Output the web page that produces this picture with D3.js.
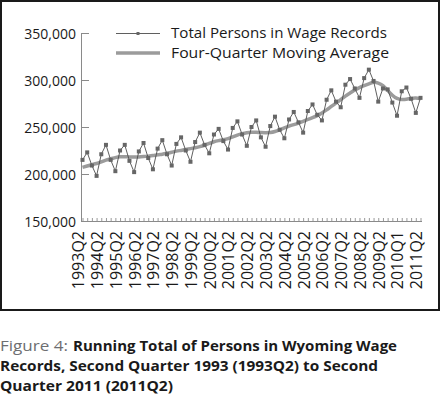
<!DOCTYPE html>
<html>
<head>
<meta charset="utf-8">
<script src="https://cdn.jsdelivr.net/npm/d3@7"></script>
<style>
  html, body { margin: 0; padding: 0; background: #fff; }
  svg { display: block; font-family: "Open Sans", "Noto Sans", sans-serif; }
</style>
</head>
<body>
<svg id="chart" width="441" height="396"></svg>
<script>
// --- DATA (thousands of persons) ---
const startYear = 1993;
const startQuarter = 2;
const totalPersons = [
  215, 223, 209, 198, 221, 231, 215, 203, 225, 231, 214, 202, 224, 233, 217, 205,
  227, 236, 221, 209, 232, 239, 225, 213, 234, 244, 231, 222, 242, 248, 235, 226,
  249, 256, 242, 230, 250, 257, 239, 229, 251, 261, 247, 238, 258, 266, 255, 244,
  267, 274, 263, 257, 279, 289, 277, 271, 295, 301, 291, 281, 302, 311, 299, 277,
  291, 290, 276, 262, 288, 292, 280, 265, 281
];
const movingAverage = [
  207, 208.5, 210, 211, 213, 215, 216, 217.5, 218.5, 218.5, 218, 218, 218, 218.5, 219, 219.5,
  220.5, 221, 222, 223, 224.5, 225, 226, 227, 228, 229, 230.5, 232.5, 234.5, 235.5, 236.5, 237.5,
  239.5, 241.5, 243, 244, 244.5, 244.5, 244, 244, 244, 245, 247, 249, 251, 252.5, 254, 256,
  258, 260, 262, 265, 268, 272, 275.5, 279, 283, 286, 289.5, 292, 294, 296, 298, 297,
  294.5, 289, 283.5, 280, 279, 279.5, 280.5, 281, 280
];
// labels printed under every fourth quarter (the source prints 2010Q1 there)
const tickLabels = [
  "1993Q2", "1994Q2", "1995Q2", "1996Q2", "1997Q2", "1998Q2", "1999Q2", "2000Q2", "2001Q2",
  "2002Q2", "2003Q2", "2004Q2", "2005Q2", "2006Q2", "2007Q2", "2008Q2", "2009Q2", "2010Q1", "2011Q2"
];
const yTicks = [150000, 200000, 250000, 300000, 350000];
const seriesNames = ["Total Persons in Wage Records", "Four-Quarter Moving Average"];

// quarter categories
const quarters = totalPersons.map((d, i) => {
  const q = startQuarter - 1 + i;
  return `${startYear + Math.floor(q / 4)}Q${(q % 4) + 1}`;
});

const svg = d3.select("#chart");

// frame around the chart
svg.append("rect")
  .attr("x", 1).attr("y", 1)
  .attr("width", 438).attr("height", 309)
  .attr("fill", "none").attr("stroke", "#1a1a1a").attr("stroke-width", 2);

const x = d3.scalePoint().domain(quarters).range([82.5, 420.5]);
const y = d3.scaleLinear().domain([150000, 350000]).range([221, 33]);

// y axis, ticks pointing inward
const yAxis = svg.append("g")
  .attr("transform", "translate(81,0)")
  .call(d3.axisLeft(y).tickValues(yTicks).tickSize(-8).tickSizeOuter(0).tickFormat(d3.format(",")));
yAxis.select(".domain").attr("stroke", "#8a8a8a");
yAxis.selectAll(".tick line").attr("stroke", "#8a8a8a");
yAxis.selectAll(".tick text")
  .attr("x", -5).attr("dy", "0.36em")
  .attr("fill", "#1a1a1a")
  .style("font-size", "14px").style("font-family", "'Open Sans', sans-serif");

// x axis with a small tick for every quarter
const xAxis = svg.append("g")
  .attr("transform", "translate(0,221)")
  .call(d3.axisBottom(x).tickSize(-3).tickSizeOuter(0).tickFormat(""));
xAxis.select(".domain").attr("stroke", "#8a8a8a").attr("d", "M81,0.5H422");
xAxis.selectAll(".tick line").attr("stroke", "#9a9a9a");

svg.append("g").selectAll("text")
  .data(tickLabels)
  .join("text")
  .attr("transform", (d, i) => `translate(${x(quarters[i * 4]) - 4},231) rotate(-90)`)
  .attr("text-anchor", "end")
  .attr("dy", "0.36em")
  .attr("fill", "#1a1a1a")
  .style("font-size", "16px")
  .text(d => d);

// moving average (thick grey)
const maLine = d3.line()
  .x((d, i) => x(quarters[i]))
  .y(d => y(d * 1000))
  .curve(d3.curveBasis);
svg.append("path")
  .datum(movingAverage)
  .attr("d", maLine)
  .attr("fill", "none")
  .attr("stroke", "#9b9b9b")
  .attr("stroke-width", 3.5);

// raw series with square markers
const rawLine = d3.line()
  .x((d, i) => x(quarters[i]))
  .y(d => y(d * 1000));
svg.append("path")
  .datum(totalPersons)
  .attr("d", rawLine)
  .attr("fill", "none")
  .attr("stroke", "#4d4d4d")
  .attr("stroke-width", 0.9);
svg.append("g").selectAll("rect")
  .data(totalPersons)
  .join("rect")
  .attr("x", (d, i) => x(quarters[i]) - 2)
  .attr("y", d => y(d * 1000) - 2)
  .attr("width", 4).attr("height", 4)
  .attr("fill", "#666");

// legend
const legend = svg.append("g");
legend.append("line")
  .attr("x1", 116).attr("x2", 160).attr("y1", 33.5).attr("y2", 33.5)
  .attr("stroke", "#4d4d4d").attr("stroke-width", 0.9);
legend.append("rect")
  .attr("x", 136.5).attr("y", 32).attr("width", 3).attr("height", 3).attr("fill", "#666");
legend.append("line")
  .attr("x1", 116).attr("x2", 160).attr("y1", 53).attr("y2", 53)
  .attr("stroke", "#9b9b9b").attr("stroke-width", 3.5);
legend.selectAll("text")
  .data(seriesNames)
  .join("text")
  .attr("x", 171)
  .attr("y", (d, i) => i === 0 ? 37.5 : 57.5)
  .attr("fill", "#1a1a1a")
  .attr("textLength", (d, i) => i === 0 ? 216 : 218)
  .attr("lengthAdjust", "spacingAndGlyphs")
  .style("font-size", "14.5px")
  .text(d => d);

// caption below the frame
const caption = svg.append("g").style("font-size", "15px");
caption.append("text")
  .attr("x", 0).attr("y", 350.5)
  .attr("fill", "#6d6e71")
  .attr("textLength", 68).attr("lengthAdjust", "spacingAndGlyphs")
  .text("Figure 4:");
const boldLines = [
  { text: "Running Total of Persons in Wyoming Wage", x: 73, y: 350.5, w: 324 },
  { text: "Records, Second Quarter 1993 (1993Q2) to Second", x: 0, y: 370.5, w: 378 },
  { text: "Quarter 2011 (2011Q2)", x: 0, y: 390.5, w: 173 }
];
caption.selectAll(".cap-bold")
  .data(boldLines)
  .join("text")
  .attr("class", "cap-bold")
  .attr("x", d => d.x).attr("y", d => d.y)
  .attr("fill", "#1a1a1a")
  .attr("font-weight", "bold")
  .attr("textLength", d => d.w).attr("lengthAdjust", "spacingAndGlyphs")
  .text(d => d.text);
</script>
</body>
</html>
